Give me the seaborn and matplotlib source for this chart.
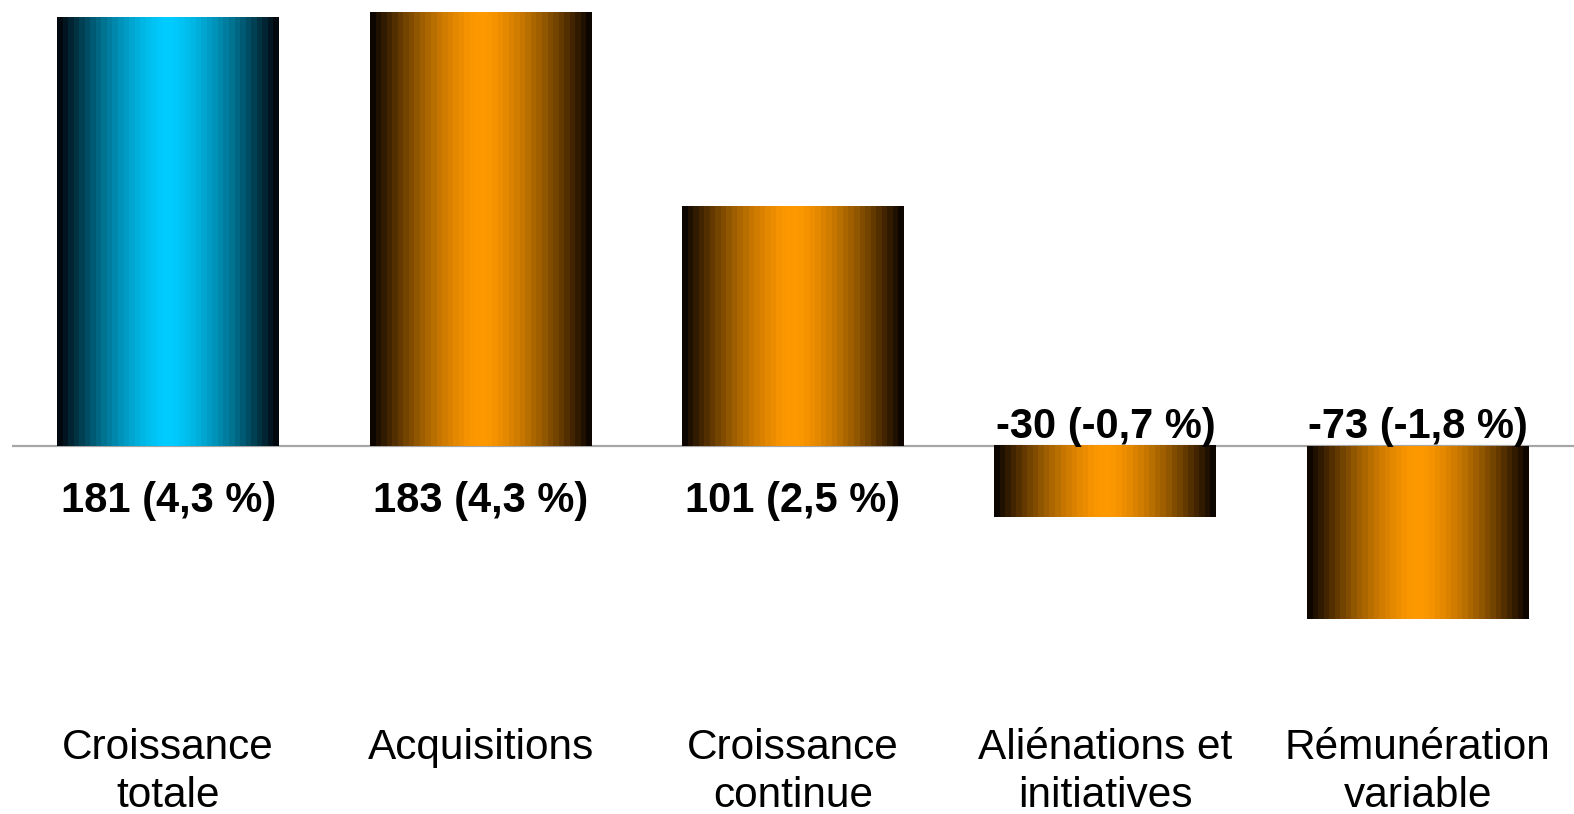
import numpy as np
import matplotlib
matplotlib.use("Agg")
import matplotlib.pyplot as plt
from matplotlib.colors import LinearSegmentedColormap
import seaborn as sns

# ---- data ----
categories = ["Croissance\ntotale", "Acquisitions", "Croissance\ncontinue",
              "Aliénations et\ninitiatives", "Rémunération\nvariable"]
values = [181, 183, 101, -30, -73]
percents = [4.3, 4.3, 2.5, -0.7, -1.8]
bar_kinds = ["total", "part", "part", "part", "part"]

# ---- style ----
sns.set_theme(style="white")
plt.rcParams["font.family"] = ["Liberation Sans", "DejaVu Sans"]

W, H, DPI = 1574, 814, 100
fig = plt.figure(figsize=(W / DPI, H / DPI), dpi=DPI)
ax_bottom_px = 722
ax = fig.add_axes([12 / W, (H - ax_bottom_px) / H, 1562 / W, ax_bottom_px / H])

sns.barplot(x=list(range(len(values))), y=values, ax=ax, width=0.71,
            color="#FF9900", edgecolor="none", linewidth=0, zorder=2)

center_colors = {"total": "#00CCFF", "part": "#FF9900"}
edge_colors = {"total": "#00070D", "part": "#0D0500"}

nsteps = 40
prof = np.abs(np.linspace(-1, 1, nsteps)) ** 1.5
for patch, kind in zip(ax.patches, bar_kinds):
    x0, y0 = patch.get_x(), patch.get_y()
    w, h = patch.get_width(), patch.get_height()
    cmap = LinearSegmentedColormap.from_list(
        "g", [center_colors[kind], edge_colors[kind]])
    grad = prof[np.newaxis, :]
    ax.imshow(grad, cmap=cmap, vmin=0, vmax=1, aspect="auto",
              extent=(x0, x0 + w, min(y0, y0 + h), max(y0, y0 + h)),
              interpolation="nearest", zorder=3)
    patch.set_facecolor("none")

ax.axhline(0, color="#A6A6A6", lw=1.6, zorder=1)

px_per_unit = 2.368
base_px = 446
ax.set_xlim(-0.5, 4.5)
ax.set_ylim(-(ax_bottom_px - base_px) / px_per_unit, base_px / px_per_unit)

def fmt(v, p):
    return f"{v} ({p:.1f} %)".replace(".", ",")

for i, (v, p) in enumerate(zip(values, percents)):
    y = -23.2 if v > 0 else 8.2
    ax.text(i, y, fmt(v, p), ha="center", va="center", fontsize=30,
            fontweight="bold", color="black", zorder=4)

ax.set_xticks(range(len(categories)))
ax.set_xticklabels(categories, fontsize=30.5, color="black", linespacing=1.27)
ax.tick_params(axis="x", length=0, pad=4)
ax.set_yticks([])
ax.set_xlabel("")
ax.set_ylabel("")
for s in ax.spines.values():
    s.set_visible(False)
ax.set_facecolor("white")
fig.patch.set_facecolor("white")

fig.savefig("out.png", dpi=DPI)
